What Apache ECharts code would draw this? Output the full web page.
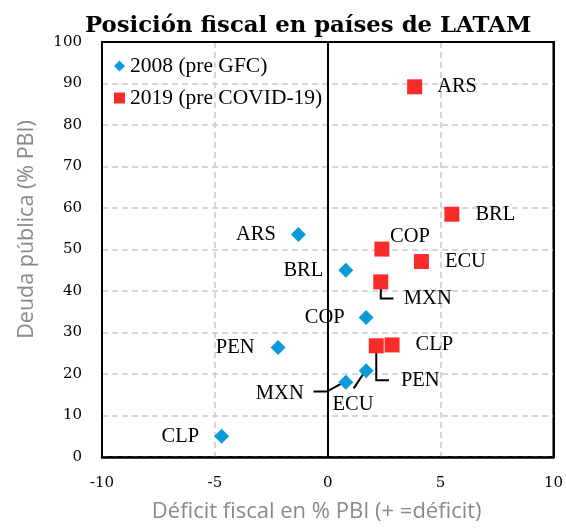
<!DOCTYPE html>
<html>
<head>
<meta charset="utf-8">
<script src="https://cdn.jsdelivr.net/npm/echarts@6/dist/echarts.min.js"></script>
<style>html,body{margin:0;padding:0;background:#fff;}#chart{width:566px;height:528px;}</style>
</head>
<body>
<div id="chart"></div>
<script>
// ---- Data ----
const xTicks = [-10, -5, 0, 5, 10];
const yTicks = [0, 10, 20, 30, 40, 50, 60, 70, 80, 90, 100];

const countries2008 = ['ARS', 'BRL', 'COP', 'PEN', 'CLP', 'MXN', 'ECU'];
const deficit2008   = [-1.3, 0.8, 1.7, -2.2, -4.7, 0.8, 1.7];
const debt2008      = [53.6, 45.0, 33.6, 26.4, 5.0, 18.0, 20.8];

const countries2019 = ['ARS', 'BRL', 'COP', 'ECU', 'MXN', 'CLP', 'PEN'];
const deficit2019   = [3.85, 5.5, 2.4, 4.15, 2.35, 2.85, 2.15];
const debt2019      = [89.2, 58.5, 50.1, 47.1, 42.2, 27.0, 26.8];

const seriesNames = ['2008 (pre GFC)', '2019 (pre COVID-19)'];

// ---- Layout (pixel offsets for labels and leader lines) ----
const labelLayout2008 = {
  ARS: { position: 'left', distance: 15 },
  BRL: { position: 'left', distance: 15 },
  COP: { position: 'left', distance: 14 },
  PEN: { position: 'left', distance: 16 },
  CLP: { position: 'left', distance: 15 },
  MXN: { position: 'inside', offset: [-66, 11] },
  ECU: { position: 'inside', offset: [-13, 34] }
};
const labelLayout2019 = {
  ARS: { position: 'right', distance: 15 },
  BRL: { position: 'right', distance: 16 },
  COP: { position: 'inside', offset: [28, -12] },
  ECU: { position: 'right', distance: 16 },
  MXN: { position: 'inside', offset: [47, 17] },
  CLP: { position: 'right', distance: 16 },
  PEN: { position: 'inside', offset: [44, 35] }
};
const leaderLayout = [
  { set: 2008, country: 'MXN', pts: [[-4, 1], [-19, 9.3], [-32.3, 9.3]] },
  { set: 2008, country: 'ECU', pts: [[-2, 2], [-12.4, 17.7]] },
  { set: 2019, country: 'PEN', pts: [[0, 0], [0, 34.4], [12.7, 34.4]] },
  { set: 2019, country: 'MXN', pts: [[0, 0], [0, 16.7], [12.7, 16.7]] }
];

const BLUE = '#0a9bd8';
const RED = '#f92b2b';
const SERIF = '"Liberation Serif", "Times New Roman", serif';
const SANS = '"Open Sans", "Noto Sans", sans-serif';

function buildPoints(countries, xs, ys, layout) {
  return countries.map((c, i) => ({
    name: c,
    value: [xs[i], ys[i]],
    label: Object.assign({ show: true, formatter: c }, layout[c])
  }));
}

const leaderData = leaderLayout.map((l, k) => {
  const src = l.set === 2008 ? [countries2008, deficit2008, debt2008] : [countries2019, deficit2019, debt2019];
  const i = src[0].indexOf(l.country);
  return [src[1][i], src[2][i], k];
});

const chart = echarts.init(document.getElementById('chart'), null, { renderer: 'canvas' });

const splitStyle = { show: true, lineStyle: { color: '#c9c9c9', width: 1.5, type: [6, 4] } };

chart.setOption({
  backgroundColor: '#fff',
  animation: false,
  title: {
    text: 'Posición fiscal en países de LATAM',
    left: 80, top: 10,
    textStyle: { fontFamily: '"DejaVu Serif", serif', fontWeight: 'bold', fontSize: 22.8, color: '#000' }
  },
  legend: {
    orient: 'vertical',
    left: 109, top: 50,
    itemWidth: 11, itemHeight: 11, itemGap: 10,
    textStyle: { fontFamily: SERIF, fontSize: 21.5, color: '#000', lineHeight: 21 },
    data: [
      { name: seriesNames[0], icon: 'diamond' },
      { name: seriesNames[1], icon: 'rect' }
    ]
  },
  grid: { left: 102, right: 10, top: 42, bottom: 69, show: true, borderColor: '#000', borderWidth: 2 },
  xAxis: [{
    type: 'value', min: xTicks[0], max: xTicks[xTicks.length - 1], interval: 5,
    axisLine: { show: true, onZero: false, lineStyle: { color: '#000', width: 2.5 } },
    axisTick: { show: false },
    axisLabel: { margin: 19, fontFamily: '"DejaVu Serif", serif', fontSize: 15, color: '#000' },
    splitLine: splitStyle,
    name: 'Déficit fiscal en % PBI (+ =déficit)',
    nameLocation: 'middle', nameGap: 44,
    nameTextStyle: { fontFamily: SANS, fontSize: 22, color: '#8a8a8a', padding: [0, 22, 0, 0] }
  }, {
    type: 'value', position: 'top', min: xTicks[0], max: xTicks[xTicks.length - 1], interval: 5,
    axisLine: { show: true, onZero: false, lineStyle: { color: '#000', width: 2 } },
    axisTick: { show: false }, axisLabel: { show: false }, splitLine: { show: false }
  }],
  yAxis: [{
    type: 'value', min: yTicks[0], max: yTicks[yTicks.length - 1], interval: 10,
    axisLine: { show: true, onZero: false, lineStyle: { color: '#000', width: 2 } },
    axisTick: { show: false },
    axisLabel: { margin: 20, fontFamily: '"DejaVu Serif", serif', fontSize: 15, color: '#000' },
    splitLine: splitStyle,
    name: 'Deuda pública (% PBI)',
    nameLocation: 'middle', nameGap: 64,
    nameTextStyle: { fontFamily: SANS, fontSize: 21.5, color: '#8a8a8a', padding: [0, 0, 0, 40] }
  }, {
    type: 'value', position: 'right', min: yTicks[0], max: yTicks[yTicks.length - 1], interval: 10,
    axisLine: { show: true, onZero: false, lineStyle: { color: '#000', width: 2 } },
    axisTick: { show: false }, axisLabel: { show: false }, splitLine: { show: false }
  }],
  series: [
    {
      type: 'custom',
      name: 'leaders',
      xAxisIndex: 0, yAxisIndex: 0,
      z: 1,
      silent: true,
      data: leaderData,
      renderItem: function (params, api) {
        const p = api.coord([api.value(0), api.value(1)]);
        const l = leaderLayout[api.value(2)];
        const pts = l.pts.map(o => [p[0] + o[0], p[1] + o[1]]);
        return { type: 'polyline', shape: { points: pts }, style: { stroke: '#000', lineWidth: 2, fill: null } };
      },
      markLine: {
        silent: true, symbol: 'none', label: { show: false },
        lineStyle: { color: '#000', type: 'solid', width: 2 },
        data: [{ xAxis: 0 }]
      }
    },
    {
      type: 'scatter', name: seriesNames[0], z: 3,
      symbol: 'diamond', symbolSize: 15,
      itemStyle: { color: BLUE, opacity: 1 },
      label: { fontFamily: SERIF, fontSize: 20.5, color: '#000' },
      data: buildPoints(countries2008, deficit2008, debt2008, labelLayout2008)
    },
    {
      type: 'scatter', name: seriesNames[1], z: 3,
      symbol: 'rect', symbolSize: 15,
      itemStyle: { color: RED, opacity: 1 },
      label: { fontFamily: SERIF, fontSize: 20.5, color: '#000' },
      data: buildPoints(countries2019, deficit2019, debt2019, labelLayout2019)
    }
  ]
});
</script>
</body>
</html>
